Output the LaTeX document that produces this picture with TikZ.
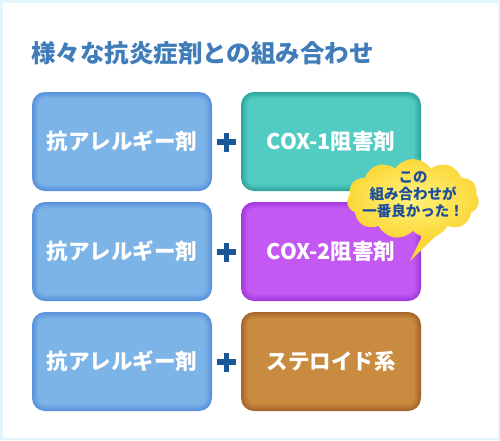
\documentclass[tikz,border=0pt]{standalone}
\usepackage{fontspec}
\setmainfont{Noto Sans CJK JP}
\usetikzlibrary{shapes.symbols}
\definecolor{framebg}{HTML}{E3F6FD}
\definecolor{titleblue}{HTML}{3F7CB9}
\definecolor{plusblue}{HTML}{1A5796}
\definecolor{blueMain}{HTML}{7DB4E8}
\definecolor{blueEdge}{HTML}{5A92DC}
\definecolor{tealMain}{HTML}{52CCC3}
\definecolor{tealEdge}{HTML}{30A69D}
\definecolor{purpMain}{HTML}{C458F2}
\definecolor{purpEdge}{HTML}{A23ADD}
\definecolor{brownMain}{HTML}{C98B40}
\definecolor{brownEdge}{HTML}{A4652A}
\definecolor{cloudIn}{HTML}{FFF27C}
\definecolor{cloudOut}{HTML}{FBD83A}
\definecolor{cloudText}{HTML}{1D4E9B}
\tikzset{
  drugbox/.style n args={2}{draw=none, fill=#2, rounded corners=13pt,
    minimum width=180pt, minimum height=99pt, inner sep=0pt,
    text=white, font=\bfseries\fontsize{21.5}{25}\selectfont,
    path picture={
      \foreach \d/\p in {1/15,2/30,3/45,4/60,5/75,6/90,7/100}{
        \fill[#1!\p!#2, rounded corners={(13-\d)*1pt}]
          ([xshift=\d pt, yshift=\d pt]path picture bounding box.south west)
          rectangle
          ([xshift=-\d pt, yshift=-\d pt]path picture bounding box.north east);
      }
    }},
  plusline/.style={draw=plusblue, line width=5.5pt},
}
\begin{document}
\begin{tikzpicture}[x=1pt,y=-1pt]
\useasboundingbox (0,0) rectangle (500,440);
\fill[framebg] (0,0) rectangle (500,440);
\fill[white] (2.5,2.5) rectangle (497.5,437.5);

\node[anchor=west, inner sep=0pt, text=titleblue,
  font=\bfseries\fontsize{24.5}{28}\selectfont] (title) at (31,53) {様々な抗炎症剤との組み合わせ};

% row 1
\node[drugbox={blueMain}{blueEdge}] (l1) at (122,141.5) {抗アレルギー剤};
\node[drugbox={tealMain}{tealEdge}] (r1) at (331,141.5) {COX-1阻害剤};
% row 2
\node[drugbox={blueMain}{blueEdge}] (l2) at (122,251.5) {抗アレルギー剤};
\node[drugbox={purpMain}{purpEdge}] (r2) at (331,251.5) {COX-2阻害剤};
% row 3
\node[drugbox={blueMain}{blueEdge}] (l3) at (122,361.5) {抗アレルギー剤};
\node[drugbox={brownMain}{brownEdge}] (r3) at (331,361.5) {ステロイド系};

% plus signs
\foreach \i/\y in {1/142,2/252,3/362}{
  \coordinate (p\i) at (226.5,\y);
  \draw[plusline] ([xshift=-9.5pt]p\i) -- ([xshift=9.5pt]p\i);
  \draw[plusline] ([yshift=-9.5pt]p\i) -- ([yshift=9.5pt]p\i);
}

% speech cloud
\coordinate (tip) at (410,261);
\coordinate (tailA) at (424,232);
\coordinate (tailB) at (444,228);
\fill[cloudOut] (tailA) -- (tip) -- (tailB) -- cycle;
\node[cloud, cloud puffs=11, cloud puff arc=110, aspect=1.75,
  minimum width=132pt, minimum height=80pt, inner sep=0pt,
  draw=none, inner color=cloudIn, outer color=cloudOut] (cloud) at (413,199) {};
\node[align=center, text=cloudText, inner sep=0pt,
  font=\bfseries\fontsize{14.5}{17}\selectfont] (ctext) at (413,195)
  {この\\組み合わせが\\一番良かった！};
\end{tikzpicture}
\end{document}
